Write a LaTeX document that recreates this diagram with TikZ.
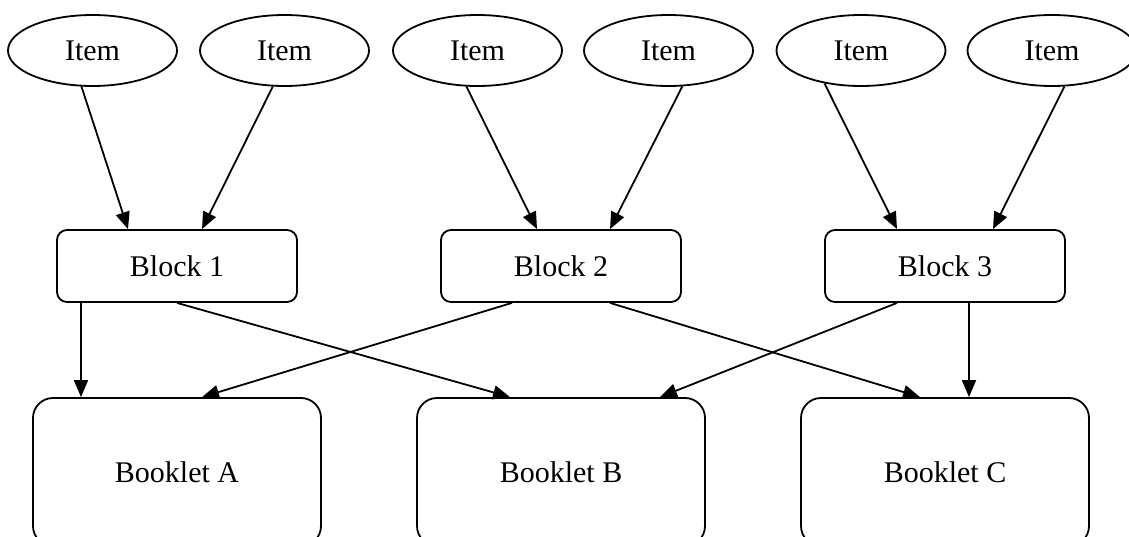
\documentclass[tikz,border=0pt]{standalone}
\usepackage{fontspec}
\setmainfont{Liberation Serif}
\usetikzlibrary{arrows.meta,shapes.geometric}
\tikzset{
	item/.style={draw, ellipse, line width=1.8pt, inner sep=0pt, minimum width=169pt, minimum height=71pt},
	block/.style={draw, rectangle, rounded corners=10pt, line width=1.8pt, minimum width=240pt, minimum height=72pt},
	booklet/.style={draw, rectangle, rounded corners=20pt, line width=1.8pt, minimum width=288pt, minimum height=148pt},
	link/.style={line width=1.8pt, -{Triangle[length=17pt,width=14pt]}}
}

\begin{document}
\begin{tikzpicture}[x=1pt, y=-1pt, font=\fontsize{30}{36}\selectfont]
			%%%%% START %%%%%
			
			\path[use as bounding box] (0, 0) rectangle (1129, 537);
			\clip (0, 0) rectangle (1129, 537);
			
			\node[item] (item1) at (92.5, 50.5) {Item};
			\node[item] (item2) at (284.5, 50.5) {Item};
			\node[item] (item3) at (477.5, 50.5) {Item};
			\node[item] (item4) at (668.5, 50.5) {Item};
			\node[item] (item5) at (861, 50.5) {Item};
			\node[item] (item6) at (1052, 50.5) {Item};
			
			\node[block] (block1) at (177, 266) {Block 1};
			\node[block] (block2) at (561, 266) {Block 2};
			\node[block] (block3) at (945, 266) {Block 3};
			
			\node[booklet] (bookA) at (177, 472) {Booklet A};
			\node[booklet] (bookB) at (561, 472) {Booklet B};
			\node[booklet] (bookC) at (945, 472) {Booklet C};
			
			\draw[link] (item1.253) -- ([xshift=-49pt]block1.north);
			\draw[link] (item2.252) -- ([xshift=25pt]block1.north);
			\draw[link] (item3.253) -- ([xshift=-24pt]block2.north);
			\draw[link] (item4.291) -- ([xshift=49pt]block2.north);
			\draw[link] (item5.222) -- ([xshift=-48pt]block3.north);
			\draw[link] (item6.289) -- ([xshift=48pt]block3.north);
			
			\draw[link] ([xshift=-96pt]block1.south) -- ([xshift=-96pt]bookA.north);
			\draw[link] (block1.south) -- ([xshift=-51pt]bookB.north);
			\draw[link] ([xshift=-49pt]block2.south) -- ([xshift=25pt]bookA.north);
			\draw[link] ([xshift=49pt]block2.south) -- ([xshift=-25pt]bookC.north);
			\draw[link] ([xshift=-48pt]block3.south) -- ([xshift=99pt]bookB.north);
			\draw[link] ([xshift=24pt]block3.south) -- ([xshift=24pt]bookC.north);
			
			%%%%% END %%%%%
		\end{tikzpicture}
\end{document}
